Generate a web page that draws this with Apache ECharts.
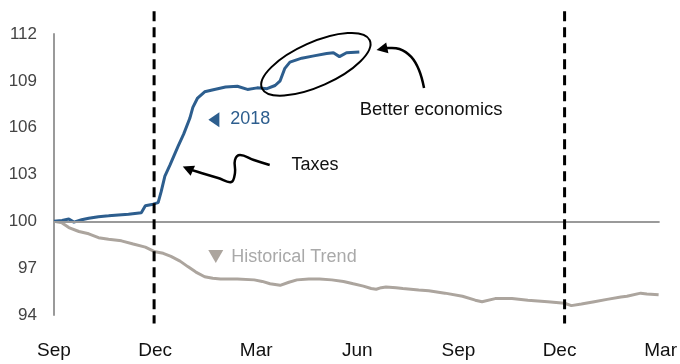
<!DOCTYPE html>
<html>
<head>
<meta charset="utf-8">
<script src="https://cdn.jsdelivr.net/npm/echarts@6/dist/echarts.min.js"></script>
<style>html,body{margin:0;padding:0;background:#fff}#c{width:680px;height:364px}</style>
</head>
<body>
<div id="c"></div>
<script>
// x in months since the first Sep
var xTickLabels = ['Sep', 'Dec', 'Mar', 'Jun', 'Sep', 'Dec', 'Mar'];
var yTicks = [94, 97, 100, 103, 106, 109, 112];

var series2018Months = [0, 0.24, 0.44, 0.59, 0.82, 1.03, 1.32, 1.62, 1.91, 2.21, 2.59, 2.71, 2.94, 3.09, 3.18, 3.29, 3.44, 3.68, 3.85, 4.03, 4.12, 4.26, 4.47, 4.76, 5.09, 5.44, 5.74, 6.03, 6.32, 6.56, 6.71, 6.85, 7.0, 7.35, 7.71, 8.09, 8.29, 8.47, 8.68, 9.06];
var series2018Values = [100.0, 100.05, 100.15, 99.95, 100.1, 100.2, 100.3, 100.35, 100.4, 100.45, 100.55, 101.0, 101.1, 101.2, 101.9, 102.9, 103.6, 104.8, 105.6, 106.6, 107.3, 107.9, 108.3, 108.45, 108.6, 108.65, 108.45, 108.55, 108.5, 108.7, 109.0, 109.8, 110.2, 110.45, 110.6, 110.75, 110.8, 110.55, 110.8, 110.85];

var histMonths = [0, 0.24, 0.44, 0.74, 1.03, 1.32, 1.62, 2.0, 2.35, 2.71, 3.0, 3.24, 3.47, 3.74, 3.97, 4.21, 4.47, 4.71, 4.94, 5.44, 5.94, 6.18, 6.41, 6.71, 6.97, 7.21, 7.56, 7.88, 8.24, 8.59, 8.88, 9.18, 9.41, 9.56, 9.71, 9.85, 10.15, 10.35, 10.82, 11.12, 11.6, 12.12, 12.5, 12.7, 13.09, 13.59, 14.06, 14.65, 15.15, 15.35, 15.65, 16.03, 16.41, 16.82, 17.0, 17.41, 17.59, 17.94];
var histValues = [100.0, 99.9, 99.6, 99.35, 99.2, 98.95, 98.85, 98.75, 98.55, 98.35, 98.05, 97.95, 97.75, 97.45, 97.1, 96.75, 96.45, 96.35, 96.3, 96.3, 96.25, 96.15, 96.0, 95.9, 96.1, 96.25, 96.3, 96.3, 96.25, 96.15, 96.0, 95.85, 95.7, 95.65, 95.75, 95.8, 95.75, 95.7, 95.6, 95.55, 95.4, 95.2, 94.95, 94.85, 95.05, 95.05, 94.95, 94.85, 94.75, 94.6, 94.7, 94.85, 95.0, 95.15, 95.2, 95.4, 95.35, 95.3];

var eventMonths = [2.97, 15.15];   // dashed "Dec" markers
var baseLevel = 100;

function zip(xs, ys) { return xs.map(function (x, i) { return [x, ys[i]]; }); }

var FONT = '"Liberation Sans", Arial, sans-serif';
var chart = echarts.init(document.getElementById('c'), null, { renderer: 'canvas' });

var option = {
  animation: false,
  backgroundColor: '#fff',
  grid: { left: 54, right: 13, top: 34, bottom: 49, containLabel: false },
  xAxis: {
    type: 'value', min: 0, max: 18, interval: 3,
    axisLine: { show: false }, axisTick: { show: false }, splitLine: { show: false },
    axisLabel: {
      margin: 26, fontSize: 19, color: '#111', fontFamily: FONT,
      showMinLabel: true, showMaxLabel: true,
      formatter: function (v) { return xTickLabels[Math.round(v / 3)]; }
    }
  },
  yAxis: {
    type: 'value', min: yTicks[0], max: yTicks[yTicks.length - 1], interval: 3,
    axisLine: { show: true, lineStyle: { color: '#9a9a9a', width: 2 } },
    axisTick: { show: false }, splitLine: { show: false },
    axisLabel: { margin: 17, fontSize: 17, color: '#444', fontFamily: FONT }
  },
  series: [
    {
      name: 'Historical Trend', type: 'line', clip: false, showSymbol: false, symbol: 'none',
      data: zip(histMonths, histValues),
      lineStyle: { color: '#aca59e', width: 3 }, z: 3,
      markLine: {
        silent: true, symbol: ['none', 'none'], label: { show: false },
        data: [
          [{ coord: [0, baseLevel], lineStyle: { color: '#9a9a9a', width: 2, type: 'solid' } }, { coord: [17.97, baseLevel] }]
        ]
      }
    },
    {
      name: '2018', type: 'line', clip: false, showSymbol: false, symbol: 'none',
      data: zip(series2018Months, series2018Values),
      lineStyle: { color: '#2d5e8e', width: 3 }, z: 4
    }
  ]
};
chart.setOption(option);

// annotations anchored in data coordinates
function P(m, v) { return chart.convertToPixel({ gridIndex: 0 }, [m, v]); }
function arrowHead(tip, from, len, half) {
  var dx = tip[0] - from[0], dy = tip[1] - from[1];
  var d = Math.sqrt(dx * dx + dy * dy); dx /= d; dy /= d;
  var bx = tip[0] - dx * len, by = tip[1] - dy * len;
  return [[tip[0], tip[1]], [bx - dy * half, by + dx * half], [bx + dy * half, by - dx * half]];
}

var taxesPath = [[6.40, 103.61], [5.93, 103.93], [5.52, 104.25], [5.37, 103.93], [5.37, 103.10], [5.26, 102.52], [4.87, 102.78], [4.37, 103.10], [4.02, 103.33]];
var taxesTip = [3.82, 103.52];
var econPath = [[10.98, 108.54], [10.83, 109.69], [10.60, 110.53], [10.25, 111.04], [9.86, 111.10], [9.75, 111.05]];
var econTip = [9.57, 110.97];

var tp = taxesPath.map(function (p) { return P(p[0], p[1]); });
var ep = econPath.map(function (p) { return P(p[0], p[1]); });
var tTip = P(taxesTip[0], taxesTip[1]);
var eTip = P(econTip[0], econTip[1]);
var ell = P(7.77, 110.06);
var tri2018 = P(4.58, 106.5);
var triHist = P(4.80, 97.78);
var lbl2018 = P(5.23, 106.55);
var lblHist = P(5.26, 97.71);
var lblTaxes = P(7.05, 103.61);
var lblEcon = P(9.07, 107.13);

var graphics = [];
eventMonths.forEach(function (m) {
  var a = P(m, 113.45), b = P(m, 93.45);
  graphics.push({ type: 'line', shape: { x1: a[0], y1: a[1], x2: b[0], y2: b[1] },
    style: { stroke: '#000', lineWidth: 3, lineDash: [10, 6] }, z: 9 });
});
graphics = graphics.concat([
  { type: 'ellipse', x: ell[0], y: ell[1], rotation: 0.42, shape: { cx: 0, cy: 0, rx: 59, ry: 22 },
    style: { fill: 'none', stroke: '#000', lineWidth: 2 }, z: 10 },
  { type: 'polyline', shape: { points: tp, smooth: 0.4 }, style: { fill: 'none', stroke: '#000', lineWidth: 2.5 }, z: 10 },
  { type: 'polygon', shape: { points: arrowHead(tTip, tp[tp.length - 1], 11, 5.5) }, style: { fill: '#000' }, z: 10 },
  { type: 'polyline', shape: { points: ep, smooth: 0.4 }, style: { fill: 'none', stroke: '#000', lineWidth: 2.5 }, z: 10 },
  { type: 'polygon', shape: { points: arrowHead(eTip, ep[ep.length - 1], 11, 5.5) }, style: { fill: '#000' }, z: 10 },
  { type: 'polygon', shape: { points: [[tri2018[0], tri2018[1]], [tri2018[0] + 11, tri2018[1] - 7.5], [tri2018[0] + 11, tri2018[1] + 7.5]] }, style: { fill: '#2d5e8e' }, z: 10 },
  { type: 'polygon', shape: { points: [[triHist[0] - 7.5, triHist[1] - 6], [triHist[0] + 7.5, triHist[1] - 6], [triHist[0], triHist[1] + 7]] }, style: { fill: '#aca59e' }, z: 10 },
  { type: 'text', x: lbl2018[0], y: lbl2018[1], style: { text: '2018', font: '18px ' + FONT, fill: '#2d5e8e', verticalAlign: 'middle', align: 'left' }, z: 10 },
  { type: 'text', x: lblHist[0], y: lblHist[1], style: { text: 'Historical Trend', font: '18px ' + FONT, fill: '#a9a9a9', verticalAlign: 'middle', align: 'left' }, z: 10 },
  { type: 'text', x: lblTaxes[0], y: lblTaxes[1], style: { text: 'Taxes', font: '18px ' + FONT, fill: '#111', verticalAlign: 'middle', align: 'left' }, z: 10 },
  { type: 'text', x: lblEcon[0], y: lblEcon[1], style: { text: 'Better economics', font: '18.5px ' + FONT, fill: '#111', verticalAlign: 'middle', align: 'left' }, z: 10 }
]);
chart.setOption({ graphic: graphics });
</script>
</body>
</html>
